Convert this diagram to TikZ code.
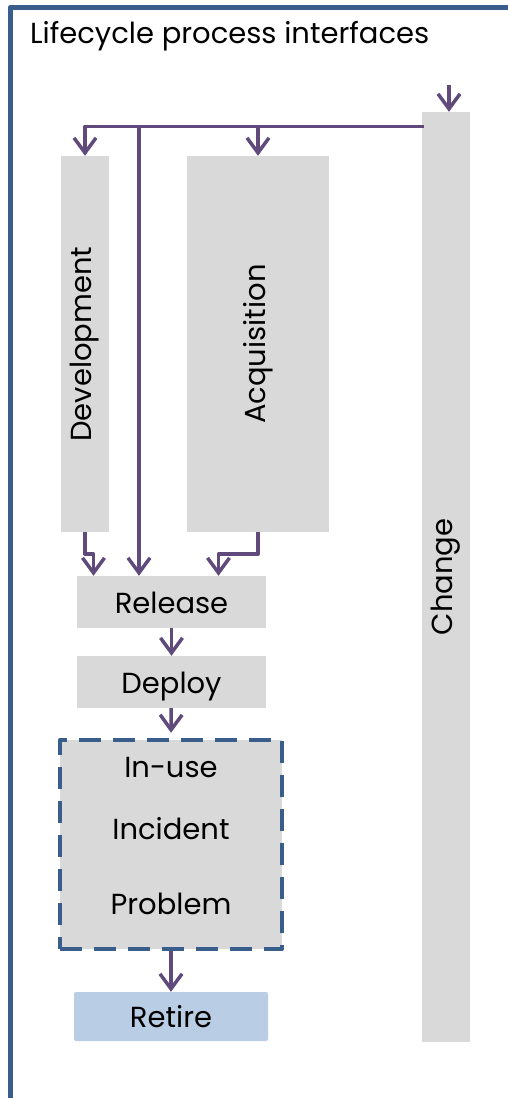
\documentclass[tikz,border=0pt]{standalone}
\usepackage{fontspec}
\setmainfont{Poppins}
\usetikzlibrary{arrows.meta}
\definecolor{framebl}{RGB}{58,94,140}
\definecolor{flowpu}{RGB}{96,74,123}
\definecolor{boxgr}{RGB}{217,217,217}
\definecolor{retbl}{RGB}{185,205,229}
\begin{document}
\begin{tikzpicture}[x=1pt,y=-1pt,line join=round,
	font=\fontsize{29}{34}\selectfont,
	pbox/.style={fill=boxgr,inner sep=0pt},
	hbox/.style={pbox,text height=22pt,text depth=0pt},
	flow/.style={draw=flowpu,line width=3.5pt,-{Straight Barb[length=15pt,width=22pt]}}]
	\useasboundingbox (0,0) rectangle (508,1098);
	% frame and title
	\draw[framebl,line width=5pt] (10.5,1098) -- (10.5,7) -- (508,7);
	\node[anchor=base west,inner sep=0pt] (title) at (30,43) {Lifecycle process interfaces};
	% process boxes
	\node[pbox,minimum width=48pt,minimum height=376pt] (dev) at (85,344) {\rotatebox{90}{Development}};
	\node[pbox,minimum width=142pt,minimum height=376pt] (acq) at (258,344) {\rotatebox{90}{Acquisition}};
	\node[pbox,minimum width=48pt,minimum height=930pt] (change) at (446,577) {\rotatebox{90}{Change}};
	\node[hbox,minimum width=189pt,minimum height=52pt] (rel) at (171.5,602) {Release};
	\node[hbox,minimum width=189pt,minimum height=52pt] (dep) at (171.5,682) {Deploy};
	\node[pbox,draw=framebl,line width=4.5pt,dash pattern=on 22pt off 12pt,
		minimum width=222pt,minimum height=209pt] (ops) at (171,844.5) {};
	\node[anchor=base] (inuse) at (171,777) {In-use};
	\node[anchor=base] (incid) at (171,839) {Incident};
	\node[anchor=base] (probl) at (171,914) {Problem};
	\node[hbox,fill=retbl,rounded corners=2pt,minimum width=194pt,minimum height=49pt] (ret) at (171,1016.5) {Retire};
	% connectors
	\coordinate (chin) at (449,85);
	\coordinate (busR) at (424,126.5);
	\coordinate (tap) at (139,126.5);
	\draw[flow] (chin) -- (chin |- change.north);
	\draw[flow] (busR) -| (dev.north);
	\draw[flow] (busR) -| (acq.north);
	\draw[flow] (tap) -- (tap |- rel.north);
	\draw[flow] (dev.south) -- ++(0,22) -| ([xshift=-78pt]rel.north);
	\draw[flow] (acq.south) -- ++(0,22) -| ([xshift=47pt]rel.north);
	\draw[flow] (rel) -- (dep);
	\draw[flow] (dep) -- ([yshift=5pt]ops.north);
	\draw[flow] (ops) -- (ret);
\end{tikzpicture}
\end{document}
